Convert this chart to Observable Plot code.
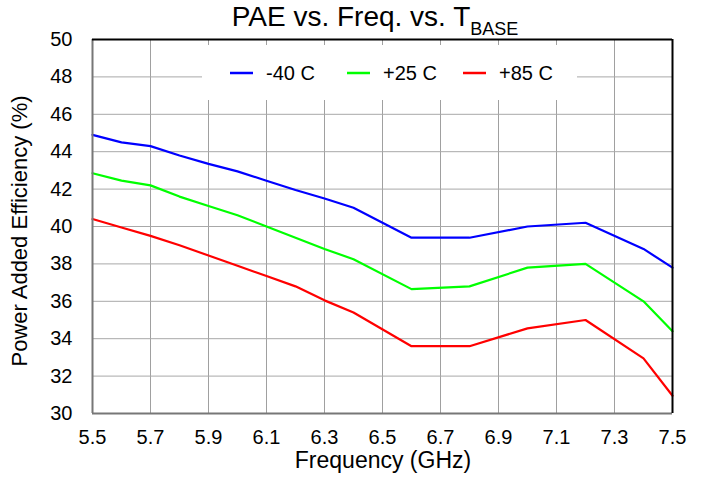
<!DOCTYPE html>
<html>
<head>
<meta charset="utf-8">
<script src="https://cdn.jsdelivr.net/npm/d3@7"></script>
<script src="https://cdn.jsdelivr.net/npm/@observablehq/plot@0.6"></script>
<style>
  html, body { margin: 0; padding: 0; background: #fff; }
</style>
</head>
<body>
<div id="chart"></div>
<script>
// ---- data ----
const freqs = [5.5, 5.6, 5.7, 5.8, 5.9, 6.0, 6.1, 6.2, 6.3, 6.4, 6.6, 6.8, 7.0, 7.2, 7.4, 7.5];
const paeMinus40 = [44.9, 44.5, 44.3, 43.8, 43.35, 42.95, 42.45, 41.95, 41.5, 41.0, 39.4, 39.4, 40.0, 40.2, 38.8, 37.8];
const paePlus25  = [42.85, 42.45, 42.2, 41.6, 41.1, 40.6, 40.0, 39.4, 38.8, 38.25, 36.65, 36.8, 37.8, 38.0, 36.0, 34.4];
const paePlus85  = [40.4, 39.95, 39.5, 39.0, 38.45, 37.9, 37.35, 36.8, 36.05, 35.4, 33.6, 33.6, 34.55, 35.0, 32.95, 30.95];
const seriesNames = ["-40 C", "+25 C", "+85 C"];
const seriesColors = ["#0000ff", "#00ff00", "#ff0000"];
const xTicks = [5.5, 5.7, 5.9, 6.1, 6.3, 6.5, 6.7, 6.9, 7.1, 7.3, 7.5];
const yTicks = [30, 32, 34, 36, 38, 40, 42, 44, 46, 48, 50];
const xDomain = [5.5, 7.5];
const yDomain = [30, 50];

const seriesValues = [paeMinus40, paePlus25, paePlus85];
const rows = [];
seriesValues.forEach((vals, i) => {
  freqs.forEach((f, j) => rows.push({ series: seriesNames[i], freq: f, pae: vals[j] }));
});

const W = 702, H = 477;
const mL = 92, mR = 30, mT = 39, mB = 64;
const font = "'Liberation Sans', Arial, Helvetica, sans-serif";

const chart = Plot.plot({
  width: W,
  height: H,
  marginLeft: mL,
  marginRight: mR,
  marginTop: mT,
  marginBottom: mB,
  style: { fontFamily: font, fontSize: "20px", background: "#fff", color: "#000" },
  x: { domain: xDomain },
  y: { domain: yDomain },
  color: { domain: seriesNames, range: seriesColors },
  marks: [
    Plot.gridX(xTicks, { stroke: "#a0a0a0", strokeOpacity: 1, strokeWidth: 1 }),
    Plot.gridY(yTicks, { stroke: "#a8a8a8", strokeOpacity: 1, strokeWidth: 1 }),
    Plot.axisX(xTicks, { tickSize: 0, tickPadding: 16, tickFormat: d => d.toFixed(1), label: null, fontSize: 20 }),
    Plot.axisY(yTicks, { tickSize: 0, tickPadding: 20, tickFormat: d => String(d), label: null, fontSize: 20 }),
    Plot.line(rows, { x: "freq", y: "pae", z: "series", stroke: "series", strokeWidth: 2.2, strokeLinejoin: "round" }),
    Plot.ruleY([yDomain[0]], { stroke: "#777", strokeWidth: 2 }),
    Plot.ruleX([xDomain[0]], { stroke: "#777", strokeWidth: 2 }),
    Plot.ruleY([yDomain[1]], { stroke: "#000", strokeWidth: 2 }),
    Plot.ruleX([xDomain[1]], { stroke: "#000", strokeWidth: 2 })
  ]
});

document.getElementById("chart").appendChild(chart);

// ---- annotations (title, axis labels, legend) ----
const svg = d3.select(chart);
const plotCx = mL + (W - mL - mR) / 2;

// title with subscript
const title = svg.append("text")
  .attr("x", plotCx - 7)
  .attr("y", 26)
  .attr("text-anchor", "middle")
  .attr("font-family", font)
  .attr("font-size", 28)
  .attr("fill", "#000");
title.append("tspan").text("PAE vs. Freq. vs. T");
title.append("tspan").attr("font-size", 18).attr("dy", 9).text("BASE");

// x axis label
svg.append("text")
  .attr("x", plotCx + 1)
  .attr("y", 468)
  .attr("text-anchor", "middle")
  .attr("font-family", font)
  .attr("font-size", 23)
  .attr("fill", "#000")
  .text("Frequency (GHz)");

// y axis label
svg.append("text")
  .attr("transform", `translate(27,${mT + (H - mT - mB) / 2 + 5}) rotate(-90)`)
  .attr("text-anchor", "middle")
  .attr("font-family", font)
  .attr("font-size", 22)
  .attr("fill", "#000")
  .text("Power Added Efficiency (%)");

// legend box
const lg = svg.append("g").attr("text-anchor", "start");
lg.append("rect")
  .attr("x", 202).attr("y", 45).attr("width", 375).attr("height", 55)
  .attr("fill", "#fff");
const legendX = [230, 347, 463];
seriesNames.forEach((name, i) => {
  lg.append("line")
    .attr("x1", legendX[i]).attr("x2", legendX[i] + 23)
    .attr("y1", 73).attr("y2", 73)
    .attr("stroke", seriesColors[i]).attr("stroke-width", 2.5);
  lg.append("text")
    .attr("x", legendX[i] + 36).attr("y", 80)
    .attr("text-anchor", "start")
    .attr("font-family", font).attr("font-size", 20).attr("fill", "#000")
    .text(name);
});
</script>
</body>
</html>
